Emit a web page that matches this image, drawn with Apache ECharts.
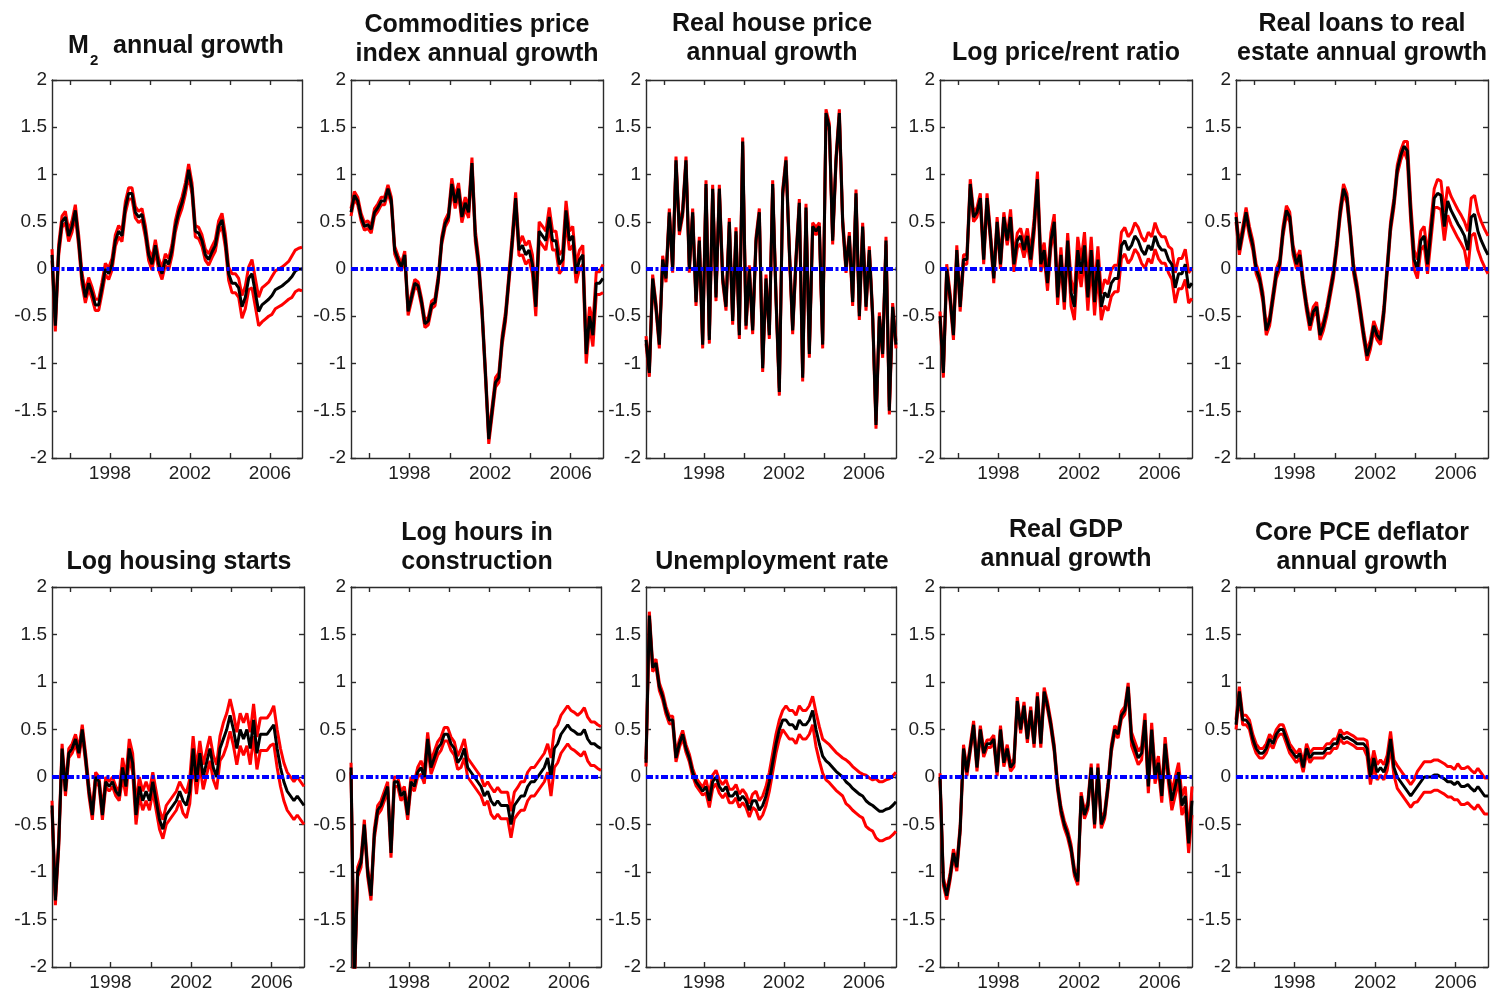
<!DOCTYPE html>
<html><head><meta charset="utf-8">
<script src="https://cdn.jsdelivr.net/npm/echarts@6/dist/echarts.min.js"></script>
<style>html,body{margin:0;padding:0;background:#fff}#c{width:1496px;height:995px}</style>
</head><body><div id="c"></div>
<script>
// ---------- time grid (bimonthly observations) ----------
const startYear = 1995.1;
const stepYear = 1 / 6;
const xMin = 1995.1, xMax = 2007.6;
const tickYears = [1996, 1998, 2000, 2002, 2004, 2006];
const labelYears = [1998, 2002, 2006];

// ---------- series values (median) and half-width of red bands (one value per half year) ----------
const m2Mid = [0.15,-0.6,0.2,0.5,0.55,0.35,0.45,0.62,0.3,-0.1,
  -0.3,-0.15,-0.25,-0.38,-0.38,-0.2,0.0,-0.05,0.05,0.3,
  0.4,0.35,0.65,0.8,0.8,0.6,0.55,0.58,0.4,0.15,
  0.05,0.25,0.05,-0.05,0.1,0.05,0.2,0.45,0.6,0.7,
  0.85,1.05,0.85,0.4,0.38,0.3,0.15,0.1,0.18,0.25,
  0.45,0.52,0.3,-0.05,-0.15,-0.15,-0.2,-0.4,-0.3,-0.1,
  -0.05,-0.25,-0.45,-0.38,-0.35,-0.32,-0.28,-0.22,-0.2,-0.18,
  -0.15,-0.12,-0.08,-0.02,0.0,0.0];
const m2Band = [0.06,0.06,0.06,0.06,0.06,0.06,0.06,0.06,0.06,0.06,0.06,0.06,0.06,0.06,0.06,0.06,0.06,0.07,0.1,0.12,0.15,0.18,0.2,0.2,0.22,0.23];

const commMid = [0.6,0.78,0.72,0.55,0.45,0.47,0.42,0.6,0.65,0.72,
  0.72,0.85,0.72,0.2,0.1,0.02,0.15,-0.45,-0.3,-0.15,
  -0.18,-0.35,-0.58,-0.55,-0.38,-0.35,-0.1,0.3,0.48,0.55,
  0.9,0.7,0.85,0.55,0.7,0.6,1.12,0.35,0.05,-0.45,
  -1.1,-1.8,-1.5,-1.2,-1.15,-0.75,-0.5,-0.1,0.3,0.75,
  0.2,0.25,0.15,0.2,0.05,-0.4,0.4,0.35,0.3,0.55,
  0.3,0.3,0.05,0.1,0.62,0.3,0.35,-0.05,0.1,0.15,
  -0.9,-0.5,-0.7,-0.15,-0.15,-0.1];
const commBand = [0.04,0.04,0.04,0.04,0.04,0.04,0.04,0.04,0.04,0.04,0.06,0.06,0.06,0.05,0.05,0.05,0.06,0.1,0.1,0.1,0.1,0.1,0.1,0.1,0.12,0.15];

const housMid = [-0.75,-1.1,-0.1,-0.4,-0.8,0.1,-0.1,0.6,0.0,1.15,
  0.4,0.6,1.15,0.0,0.6,-0.35,0.3,-0.8,0.9,-0.75,
  0.85,-0.3,0.85,-0.1,-0.4,0.5,-0.55,0.4,-0.7,1.35,
  -0.6,0.0,-0.65,0.3,0.6,-1.05,-0.1,-0.7,0.9,-0.3,
  -1.3,0.8,1.15,0.2,-0.65,0.1,0.7,-1.15,0.65,-0.9,
  0.45,0.4,0.45,-0.8,1.65,1.5,0.3,1.15,1.65,0.5,
  0.0,0.35,-0.35,0.8,-0.5,0.45,-0.4,0.2,-0.5,-1.65,
  -0.5,-0.9,0.3,-1.5,-0.4,-0.8];
const housBand = [0.04,0.04,0.04,0.04,0.04,0.04,0.04,0.04,0.04,0.04,0.04,0.04,0.04,0.04,0.04,0.04,0.04,0.04,0.04,0.04,0.04,0.04,0.04,0.04,0.04,0.04];

const prMid = [-0.5,-1.1,0.0,-0.3,-0.7,0.2,-0.4,0.1,0.1,0.9,
  0.55,0.6,0.75,0.1,0.75,0.35,-0.1,0.5,0.05,0.55,
  0.3,0.55,0.05,0.3,0.35,0.2,0.35,0.1,0.45,0.95,
  0.05,0.2,-0.15,0.3,0.5,-0.3,0.15,-0.35,0.3,-0.25,
  -0.4,0.2,-0.05,0.25,-0.3,0.2,-0.35,0.1,-0.4,-0.25,
  -0.3,-0.15,-0.1,-0.1,0.25,0.3,0.2,0.25,0.35,0.3,
  0.2,0.15,0.25,0.2,0.35,0.25,0.2,0.2,0.1,0.05,
  -0.2,-0.05,-0.05,0.05,-0.2,-0.15];
const prBand = [0.05,0.05,0.05,0.05,0.05,0.05,0.05,0.08,0.08,0.08,0.08,0.08,0.08,0.14,0.14,0.14,0.14,0.14,0.14,0.14,0.14,0.14,0.14,0.16,0.16,0.16];

const loanMid = [0.55,0.2,0.4,0.6,0.4,0.25,0.0,-0.1,-0.3,-0.65,
  -0.55,-0.3,-0.05,0.05,0.4,0.62,0.55,0.2,0.05,0.15,
  -0.15,-0.4,-0.6,-0.45,-0.4,-0.7,-0.6,-0.45,-0.25,-0.05,
  0.25,0.6,0.85,0.75,0.4,0.0,-0.2,-0.45,-0.7,-0.92,
  -0.8,-0.6,-0.7,-0.75,-0.45,0.0,0.45,0.7,1.05,1.2,
  1.3,1.25,0.6,0.1,0.0,0.3,0.35,0.05,0.4,0.75,
  0.8,0.78,0.45,0.72,0.62,0.55,0.48,0.42,0.35,0.2,
  0.55,0.58,0.4,0.3,0.22,0.15];
const loanBand = [0.05,0.05,0.05,0.05,0.05,0.05,0.05,0.05,0.05,0.05,0.05,0.05,0.05,0.05,0.05,0.05,0.05,0.1,0.1,0.1,0.15,0.15,0.15,0.2,0.2,0.2];

const startsMid = [-0.3,-1.3,-0.7,0.3,-0.15,0.25,0.3,0.4,0.25,0.5,
  0.2,-0.15,-0.4,0.0,-0.05,-0.4,-0.05,-0.1,-0.05,-0.15,
  -0.2,0.1,-0.1,0.3,0.15,-0.4,-0.1,-0.25,-0.15,-0.25,
  -0.05,-0.25,-0.45,-0.55,-0.4,-0.35,-0.3,-0.25,-0.15,-0.25,
  -0.3,-0.15,0.3,-0.05,0.25,0.0,0.15,0.3,0.1,0.0,
  0.3,0.4,0.5,0.65,0.5,0.3,0.5,0.4,0.5,0.3,
  0.6,0.25,0.45,0.45,0.45,0.5,0.55,0.3,0.1,-0.05,
  -0.15,-0.2,-0.25,-0.2,-0.25,-0.3];
const startsBand = [0.05,0.05,0.05,0.05,0.05,0.05,0.05,0.1,0.1,0.1,0.1,0.1,0.1,0.13,0.13,0.13,0.13,0.17,0.17,0.17,0.17,0.17,0.2,0.2,0.2,0.2];

const hoursMid = [0.1,-2.2,-1.0,-0.9,-0.5,-1.0,-1.25,-0.6,-0.35,-0.3,
  -0.2,-0.1,-0.8,-0.05,-0.05,-0.2,-0.15,-0.4,-0.05,-0.1,
  0.05,0.1,0.0,0.4,0.1,0.2,0.3,0.35,0.45,0.45,
  0.35,0.3,0.15,0.2,0.3,0.1,0.05,0.0,-0.05,-0.1,
  -0.2,-0.15,-0.25,-0.3,-0.25,-0.3,-0.3,-0.3,-0.5,-0.3,
  -0.25,-0.2,-0.2,-0.1,-0.05,-0.05,0.0,0.05,0.1,0.2,
  0.0,0.3,0.35,0.45,0.5,0.55,0.5,0.48,0.45,0.45,
  0.5,0.4,0.35,0.35,0.32,0.3];
const hoursBand = [0.05,0.05,0.05,0.05,0.05,0.05,0.05,0.07,0.07,0.07,0.07,0.1,0.1,0.1,0.14,0.14,0.14,0.15,0.15,0.15,0.2,0.2,0.2,0.23,0.23,0.23];

const unempMid = [0.15,1.7,1.15,1.2,0.95,0.85,0.7,0.6,0.6,0.2,
  0.35,0.45,0.3,0.2,0.05,-0.05,-0.1,-0.15,-0.1,-0.25,
  -0.05,0.0,-0.1,-0.15,-0.1,-0.2,-0.2,-0.15,-0.25,-0.2,
  -0.25,-0.35,-0.25,-0.25,-0.35,-0.3,-0.2,-0.05,0.15,0.35,
  0.5,0.6,0.6,0.55,0.55,0.5,0.6,0.55,0.55,0.6,
  0.7,0.5,0.35,0.22,0.17,0.14,0.1,0.06,0.03,0.0,
  -0.05,-0.08,-0.12,-0.15,-0.18,-0.2,-0.25,-0.28,-0.3,-0.33,
  -0.36,-0.36,-0.34,-0.33,-0.3,-0.26];
const unempBand = [0.04,0.04,0.04,0.04,0.04,0.04,0.07,0.07,0.07,0.07,0.07,0.1,0.1,0.1,0.15,0.15,0.15,0.18,0.2,0.2,0.23,0.23,0.27,0.31,0.31,0.31];

const gdpMid = [0.0,-1.1,-1.25,-1.05,-0.8,-0.95,-0.55,0.3,0.05,0.3,
  0.55,0.1,0.5,0.25,0.35,0.35,0.4,0.05,0.5,0.15,
  0.3,0.1,0.15,0.8,0.5,0.75,0.4,0.7,0.35,0.85,
  0.35,0.9,0.75,0.55,0.3,-0.1,-0.35,-0.5,-0.6,-0.75,
  -1.0,-1.1,-0.2,-0.4,-0.3,0.1,-0.5,0.1,-0.5,-0.4,
  -0.1,0.3,0.5,0.45,0.65,0.7,0.95,0.4,0.3,0.2,
  0.25,0.6,-0.1,0.5,0.0,0.15,-0.2,0.35,0.0,-0.25,
  -0.1,0.05,-0.3,-0.2,-0.7,-0.25];
const gdpBand = [0.04,0.04,0.04,0.04,0.04,0.04,0.04,0.04,0.04,0.04,0.04,0.04,0.04,0.04,0.04,0.04,0.04,0.04,0.04,0.07,0.07,0.07,0.07,0.1,0.1,0.15];

const pceMid = [0.55,0.9,0.6,0.6,0.55,0.4,0.3,0.25,0.25,0.3,
  0.4,0.35,0.45,0.5,0.5,0.4,0.3,0.25,0.2,0.25,
  0.1,0.3,0.2,0.25,0.25,0.25,0.25,0.3,0.3,0.35,
  0.35,0.45,0.4,0.42,0.4,0.38,0.35,0.35,0.35,0.3,
  0.0,0.2,0.05,0.1,0.05,0.15,0.4,0.1,0.0,-0.05,
  -0.1,-0.15,-0.2,-0.15,-0.1,-0.05,0.0,0.0,0.0,0.02,
  0.02,0.0,-0.02,-0.05,-0.05,-0.08,-0.05,-0.1,-0.1,-0.08,
  -0.12,-0.15,-0.1,-0.15,-0.2,-0.2];
const pceBand = [0.05,0.05,0.05,0.05,0.05,0.05,0.05,0.05,0.05,0.05,0.05,0.05,0.05,0.08,0.08,0.08,0.12,0.12,0.16,0.16,0.16,0.16,0.19,0.19,0.19,0.19];

// ---------- titles ----------
const titles = [
  null,
  'Commodities price\nindex annual growth',
  'Real house price\nannual growth',
  'Log price/rent ratio',
  'Real loans to real\nestate annual growth',
  'Log housing starts',
  'Log hours in\nconstruction',
  'Unemployment rate',
  'Real GDP\nannual growth',
  'Core PCE deflator\nannual growth'
];

// ---------- layout ----------
const panels = [
  {mid: m2Mid, band: m2Band, left: 52, top: 80, width: 250, height: 378, cx: 177, cy: 46},
  {mid: commMid, band: commBand, left: 351, top: 80, width: 252, height: 378, cx: 477, cy: 40},
  {mid: housMid, band: housBand, left: 646, top: 80, width: 250, height: 378, cx: 772, cy: 39},
  {mid: prMid, band: prBand, left: 940, top: 80, width: 252, height: 378, cx: 1066, cy: 53},
  {mid: loanMid, band: loanBand, left: 1236, top: 80, width: 252, height: 378, cx: 1362, cy: 39},
  {mid: startsMid, band: startsBand, left: 52, top: 587, width: 252, height: 380, cx: 179, cy: 562},
  {mid: hoursMid, band: hoursBand, left: 351, top: 587, width: 250, height: 380, cx: 477, cy: 548},
  {mid: unempMid, band: unempBand, left: 646, top: 587, width: 250, height: 380, cx: 772, cy: 562},
  {mid: gdpMid, band: gdpBand, left: 940, top: 587, width: 252, height: 380, cx: 1066, cy: 545},
  {mid: pceMid, band: pceBand, left: 1236, top: 587, width: 252, height: 380, cx: 1362, cy: 548}
];

const FONT = 'Liberation Sans';
const axisColor = '#2b2b2b';
const labelColor = '#1e1e1e';

const grids = [], xAxes = [], yAxes = [], series = [], graphics = [];

panels.forEach((p, i) => {
  grids.push({left: p.left, top: p.top, width: p.width, height: p.height, containLabel: false});
  const xBase = {
    type: 'value', gridIndex: i, min: xMin, max: xMax,
    axisLine: {show: true, onZero: false, lineStyle: {color: axisColor, width: 1.4}},
    axisTick: {show: true, inside: true, length: 5, customValues: tickYears, lineStyle: {color: axisColor, width: 1.4}},
    splitLine: {show: false}
  };
  xAxes.push(Object.assign({}, xBase, {
    position: 'bottom',
    axisLabel: {show: true, customValues: labelYears, formatter: v => String(v), fontSize: 19, color: labelColor, margin: 6, fontFamily: FONT}
  }));
  xAxes.push(Object.assign({}, xBase, {position: 'top', axisLabel: {show: false}}));
  const yBase = {
    type: 'value', gridIndex: i, min: -2, max: 2, interval: 0.5,
    axisLine: {show: true, onZero: false, lineStyle: {color: axisColor, width: 1.4}},
    axisTick: {show: true, inside: true, length: 5, lineStyle: {color: axisColor, width: 1.4}},
    splitLine: {show: false}
  };
  yAxes.push(Object.assign({}, yBase, {
    position: 'left',
    axisLabel: {show: true, fontSize: 19, color: labelColor, margin: 5, fontFamily: FONT, showMinLabel: true, showMaxLabel: true, formatter: v => String(v)}
  }));
  yAxes.push(Object.assign({}, yBase, {position: 'right', axisLabel: {show: false}}));

  const xi = 2 * i, yi = 2 * i;
  const pts = arr => arr.map((v, k) => [startYear + k * stepYear, v]);
  const hi = p.mid.map((v, k) => v + p.band[Math.floor(k / 3)]);
  const lo = p.mid.map((v, k) => v - p.band[Math.floor(k / 3)]);

  series.push({
    type: 'line', xAxisIndex: xi, yAxisIndex: yi, data: [], z: 1, silent: true,
    markLine: {
      silent: true, symbol: ['none', 'none'], label: {show: false}, animation: false,
      lineStyle: {color: '#0000ff', width: 4, type: [7, 2.5, 3, 2.5]},
      data: [{yAxis: 0}]
    }
  });
  [hi, lo].forEach(arr => series.push({
    type: 'line', xAxisIndex: xi, yAxisIndex: yi, data: pts(arr), z: 2,
    showSymbol: false, symbol: 'none', lineStyle: {color: '#ff0000', width: 3}
  }));
  series.push({
    type: 'line', xAxisIndex: xi, yAxisIndex: yi, data: pts(p.mid), z: 3,
    showSymbol: false, symbol: 'none', lineStyle: {color: '#000000', width: 3}
  });

  if (titles[i]) {
    graphics.push({
      type: 'text', silent: true,
      style: {text: titles[i], x: p.cx, y: p.cy, align: 'center', verticalAlign: 'middle',
        fontSize: 25, fontWeight: 'bold', fontFamily: FONT, lineHeight: 29, fill: '#111'}
    });
  }
});

// M2 title with subscript
graphics.push({type: 'text', silent: true, style: {text: 'M', x: 68, y: 46, align: 'left', verticalAlign: 'middle', fontSize: 25, fontWeight: 'bold', fontFamily: FONT, fill: '#111'}});
graphics.push({type: 'text', silent: true, style: {text: '2', x: 90, y: 61, align: 'left', verticalAlign: 'middle', fontSize: 15, fontWeight: 'bold', fontFamily: FONT, fill: '#111'}});
graphics.push({type: 'text', silent: true, style: {text: 'annual growth', x: 113, y: 46, align: 'left', verticalAlign: 'middle', fontSize: 25, fontWeight: 'bold', fontFamily: FONT, fill: '#111'}});

const chart = echarts.init(document.getElementById('c'), null, {renderer: 'canvas'});
chart.setOption({
  animation: false,
  backgroundColor: '#ffffff',
  textStyle: {fontFamily: FONT},
  grid: grids, xAxis: xAxes, yAxis: yAxes, series: series, graphic: graphics
});
</script></body></html>
